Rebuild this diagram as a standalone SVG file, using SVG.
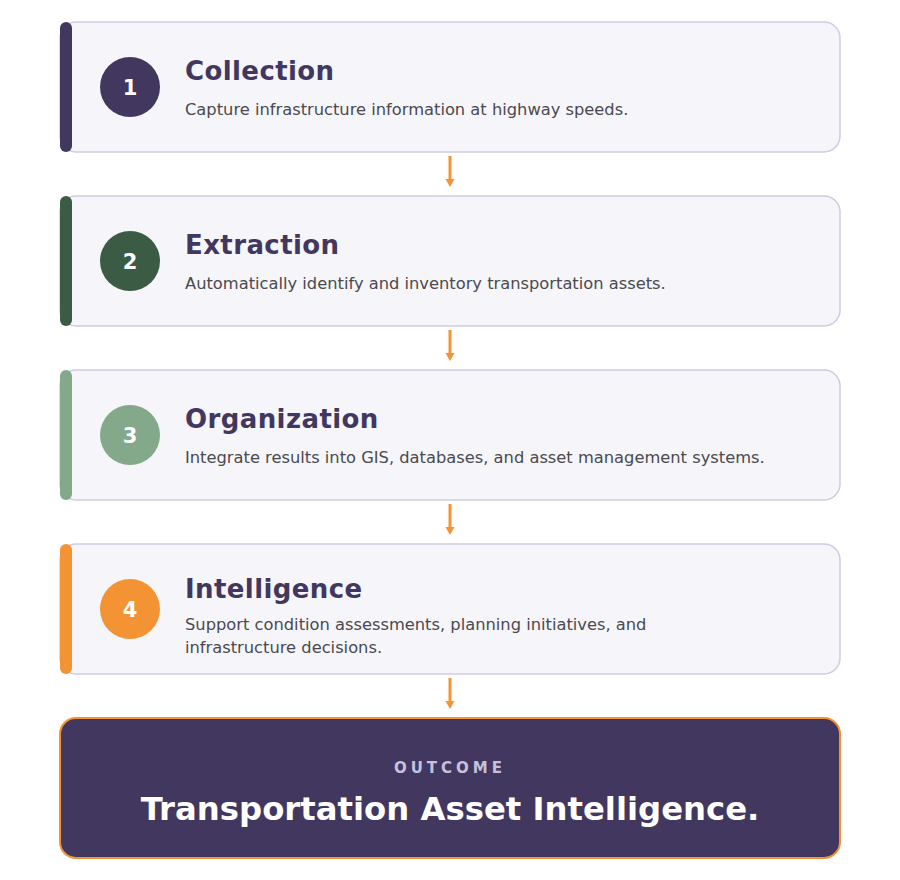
<svg xmlns="http://www.w3.org/2000/svg" width="900" height="880" viewBox="0 0 900 880">
<defs>
<style>
.card{fill:#f6f5fa;stroke:#cfcbe1;stroke-width:1.5}
.title{font-family:"DejaVu Sans",sans-serif;font-weight:bold;font-size:26px;fill:#41375f;letter-spacing:0.4px}
.desc{font-family:"DejaVu Sans",sans-serif;font-size:16.3px;fill:#4a4a4f}
.num{font-family:"DejaVu Sans",sans-serif;font-weight:bold;font-size:21px;fill:#ffffff;text-anchor:middle}
.arrow{stroke:#f39333;stroke-width:3;fill:none}
.head{fill:#f39333}
</style>
</defs>
<rect width="900" height="880" fill="#ffffff"/>
<g id="connectors">
<line class="arrow" x1="450" y1="156" x2="450" y2="180"/>
<path class="head" d="M445.5,179 L454.5,179 L450,187 Z"/>
<line class="arrow" x1="450" y1="330" x2="450" y2="354"/>
<path class="head" d="M445.5,353 L454.5,353 L450,361 Z"/>
<line class="arrow" x1="450" y1="504" x2="450" y2="528"/>
<path class="head" d="M445.5,527 L454.5,527 L450,535 Z"/>
<line class="arrow" x1="450" y1="678" x2="450" y2="702"/>
<path class="head" d="M445.5,701 L454.5,701 L450,709 Z"/>
</g>
<g id="step1">
<rect class="card" x="60" y="22" width="780" height="130" rx="16"/>
<rect x="60" y="22" width="12" height="130" rx="6" fill="#41375f"/>
<circle cx="130" cy="87" r="30" fill="#41375f"/>
<text class="num" x="130" y="95">1</text>
<text class="title" x="185" y="80">Collection</text>
<text class="desc" x="185" y="115">Capture infrastructure information at highway speeds.</text>
</g>
<g id="step2">
<rect class="card" x="60" y="196" width="780" height="130" rx="16"/>
<rect x="60" y="196" width="12" height="130" rx="6" fill="#3b5b45"/>
<circle cx="130" cy="261" r="30" fill="#3b5b45"/>
<text class="num" x="130" y="269">2</text>
<text class="title" x="185" y="254">Extraction</text>
<text class="desc" x="185" y="289">Automatically identify and inventory transportation assets.</text>
</g>
<g id="step3">
<rect class="card" x="60" y="370" width="780" height="130" rx="16"/>
<rect x="60" y="370" width="12" height="130" rx="6" fill="#84a98a"/>
<circle cx="130" cy="435" r="30" fill="#84a98a"/>
<text class="num" x="130" y="443">3</text>
<text class="title" x="185" y="428">Organization</text>
<text class="desc" x="185" y="463">Integrate results into GIS, databases, and asset management systems.</text>
</g>
<g id="step4">
<rect class="card" x="60" y="544" width="780" height="130" rx="16"/>
<rect x="60" y="544" width="12" height="130" rx="6" fill="#f39333"/>
<circle cx="130" cy="609" r="30" fill="#f39333"/>
<text class="num" x="130" y="617">4</text>
<text class="title" x="185" y="598">Intelligence</text>
<text class="desc" x="185" y="630">Support condition assessments, planning initiatives, and</text>
<text class="desc" x="185" y="653">infrastructure decisions.</text>
</g>
<g id="outcome">
<rect x="60" y="718" width="780" height="140" rx="16" fill="#41375f" stroke="#f39333" stroke-width="2"/>
<text x="450" y="773" text-anchor="middle" font-family="'DejaVu Sans',sans-serif" font-weight="bold" font-size="15px" letter-spacing="4" fill="#c6c1dd">OUTCOME</text>
<text x="450" y="820" text-anchor="middle" font-family="'DejaVu Sans',sans-serif" font-weight="bold" font-size="32.3px" fill="#ffffff">Transportation Asset Intelligence.</text>
</g>
</svg>
